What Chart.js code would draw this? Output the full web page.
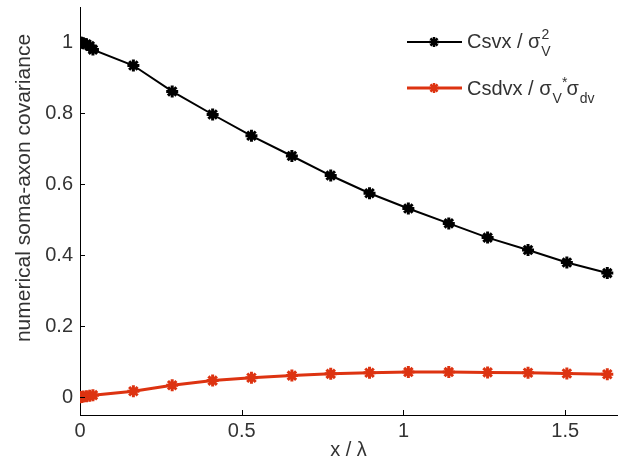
<!DOCTYPE html>
<html><head><meta charset="utf-8">
<script src="https://cdn.jsdelivr.net/npm/chart.js@4"></script>
<style>
html,body{margin:0;padding:0;background:#fff;}
#wrap{position:relative;width:619px;height:466px;}
canvas{display:block;}
.leg{position:absolute;font-family:"Liberation Sans",Arial,sans-serif;font-size:20px;color:#333;white-space:nowrap;line-height:1;}
.s{position:relative;font-size:14px;}
</style></head>
<body><div id="wrap"><canvas id="c" width="619" height="466"></canvas>
<div class="leg" style="left:467px;top:31px;">Csvx / σ<span class="s" style="top:-9px;left:1px;">2</span><span class="s" style="top:8px;left:-7px;">V</span></div>
<div class="leg" style="left:467px;top:78px;">Csdvx / σ<span class="s" style="top:8px;left:1px;">V</span><span class="s" style="top:-8px;left:1px;">*</span>σ<span class="s" style="top:8px;left:1px;">dv</span></div>
</div>
<script>
const xVals = [0, 0.005, 0.01, 0.02, 0.03, 0.04, 0.165, 0.285, 0.41, 0.53, 0.655, 0.775, 0.895, 1.015, 1.14, 1.26, 1.385, 1.505, 1.63];
const csvx  = [1, 0.999, 0.998, 0.995, 0.99, 0.98, 0.935, 0.862, 0.797, 0.737, 0.68, 0.625, 0.575, 0.532, 0.49, 0.45, 0.415, 0.38, 0.35];
const csdvx = [0, 0.001, 0.002, 0.003, 0.004, 0.006, 0.017, 0.034, 0.047, 0.055, 0.061, 0.066, 0.069, 0.071, 0.071, 0.07, 0.069, 0.067, 0.065];
const xTicks = [0, 0.5, 1, 1.5];
const yTicks = [0, 0.2, 0.4, 0.6, 0.8, 1];
const xTickLabels = ['0', '0.5', '1', '1.5'];
const yTickLabels = ['0', '0.2', '0.4', '0.6', '0.8', '1'];
const seriesNames = ['Csvx / σV^2', 'Csdvx / σV*σdv'];
const yTitle = 'numerical soma-axon covariance';
const xTitle = 'x / λ';

const BLACK = '#000000', RED = '#dd3311', TXT = '#333333';
const FONT = '"Liberation Sans", Arial, sans-serif';
const toPts = ys => xVals.map((x, i) => ({x: x, y: ys[i]}));

function star(ctx, cx, cy, r, color, w) {
  ctx.save();
  ctx.strokeStyle = color; ctx.lineWidth = w; ctx.lineCap = 'butt';
  ctx.beginPath();
  for (let k = 0; k < 4; k++) {
    const a = k * Math.PI / 4;
    ctx.moveTo(cx - r * Math.cos(a), cy - r * Math.sin(a));
    ctx.lineTo(cx + r * Math.cos(a), cy + r * Math.sin(a));
  }
  ctx.stroke();
  ctx.restore();
}

const inwardTicks = {
  id: 'inwardTicks',
  afterDraw(chart) {
    const {ctx, scales:{x, y}, chartArea:a} = chart;
    ctx.save();
    ctx.strokeStyle = '#000'; ctx.lineWidth = 1;
    ctx.beginPath();
    xTicks.forEach(v => { const p = Math.round(x.getPixelForValue(v)) + 0.5; ctx.moveTo(p, a.bottom); ctx.lineTo(p, a.bottom - 5); });
    yTicks.forEach(v => { const p = Math.round(y.getPixelForValue(v)) + 0.5; ctx.moveTo(a.left, p); ctx.lineTo(a.left + 5, p); });
    ctx.stroke();
    ctx.fillStyle = TXT;
    ctx.font = '21px ' + FONT;
    ctx.textAlign = 'center'; ctx.textBaseline = 'middle';
    ctx.translate(24, 188);
    ctx.rotate(-Math.PI / 2);
    ctx.fillText(yTitle, 0, 0);
    ctx.restore();
  }
};
const legendMarks = {
  id: 'legendMarks',
  afterDraw(chart) {
    const ctx = chart.ctx;
    [{y: 42, c: BLACK, w: 2}, {y: 88, c: RED, w: 3}].forEach(it => {
      ctx.save();
      ctx.strokeStyle = it.c; ctx.lineWidth = it.w;
      ctx.beginPath(); ctx.moveTo(407, it.y); ctx.lineTo(462, it.y); ctx.stroke();
      ctx.restore();
      star(ctx, 434, it.y, 5, it.c, 2.5);
    });
  }
};

new Chart(document.getElementById('c'), {
  type: 'line',
  data: {
    datasets: [
      {label: seriesNames[0], data: toPts(csvx), borderColor: BLACK, backgroundColor: BLACK, borderWidth: 2,
       pointStyle: 'star', pointRadius: 6, pointBorderWidth: 3, pointBorderColor: BLACK, tension: 0},
      {label: seriesNames[1], data: toPts(csdvx), borderColor: RED, backgroundColor: RED, borderWidth: 3,
       pointStyle: 'star', pointRadius: 6, pointBorderWidth: 3, pointBorderColor: RED, tension: 0}
    ]
  },
  options: {
    responsive: false, animation: false,
    layout: {autoPadding: false, padding: {top: 7, right: 2, left: 0, bottom: 0}},
    plugins: {legend: {display: false}, tooltip: {enabled: false}},
    scales: {
      x: {
        type: 'linear', min: 0, max: 1.66,
        afterBuildTicks: s => { s.ticks = xTicks.map(v => ({value: v})); },
        afterFit: s => { s.height = 51; s.paddingLeft = 0; s.paddingRight = 0; },
        grid: {display: true, drawOnChartArea: false, drawTicks: false},
        border: {display: true, color: '#000', width: 1},
        ticks: {color: TXT, padding: 4, maxRotation: 0, autoSkip: false,
                font: {family: FONT, size: 20},
                callback: (v) => { const i = xTicks.indexOf(v); return i >= 0 ? xTickLabels[i] : ''; }},
        title: {display: true, text: xTitle, color: TXT, padding: {top: 0, bottom: 4},
                font: {family: FONT, size: 20}}
      },
      y: {
        type: 'linear', min: -0.05, max: 1.1,
        afterBuildTicks: s => { s.ticks = yTicks.map(v => ({value: v})); },
        afterFit: s => { s.width = 80; s.paddingTop = 0; s.paddingBottom = 0; },
        grid: {display: true, drawOnChartArea: false, drawTicks: false},
        border: {display: true, color: '#000', width: 1},
        ticks: {color: TXT, padding: 7, autoSkip: false,
                font: {family: FONT, size: 20},
                callback: (v) => { const i = yTicks.findIndex(t => Math.abs(t - v) < 1e-9); return i >= 0 ? yTickLabels[i] : ''; }},
        title: {display: false}
      }
    }
  },
  plugins: [inwardTicks, legendMarks]
});
</script></body></html>
